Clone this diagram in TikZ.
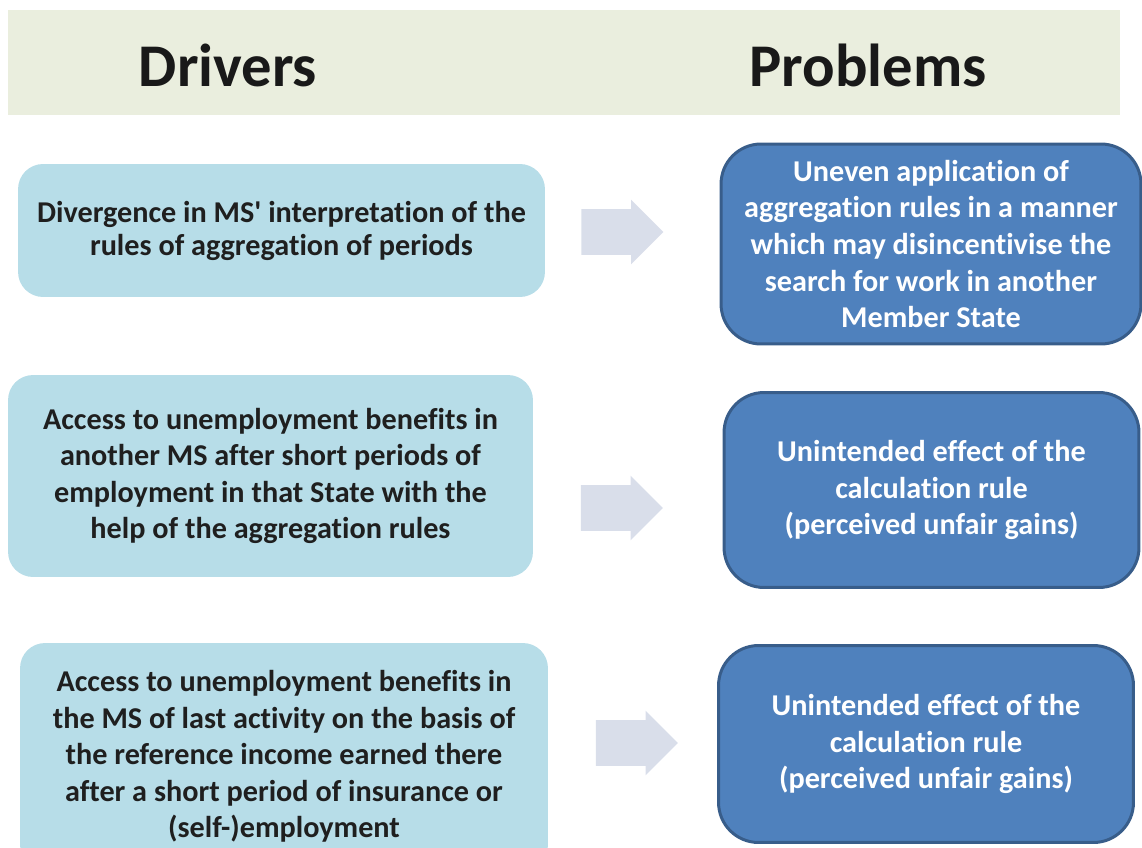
\documentclass[tikz,border=0pt]{standalone}
\usepackage{fontspec}
\setmainfont{Carlito}[Ligatures={NoCommon,TeXOff}]
\usepackage{tikz}
\usetikzlibrary{shapes.arrows}
\definecolor{headband}{RGB}{234,238,222}
\definecolor{driverfill}{RGB}{183,221,232}
\definecolor{problemfill}{RGB}{79,129,189}
\definecolor{problemline}{RGB}{56,93,138}
\definecolor{arrowfill}{RGB}{217,222,234}

\begin{document}
\begin{tikzpicture}[
  x=0.02cm, y=-0.02cm,
  heading/.style={font={\fontsize{34.5}{40}\selectfont\bfseries}, text=black!90},
  driver/.style={
    fill=driverfill, rounded corners=0.5cm, align=center,
    font={\fontsize{17.2}{20.8}\selectfont\bfseries}, text=black!88},
  problem/.style={
    fill=problemfill, draw=problemline, line width=1.7pt,
    rounded corners=0.8cm, align=center, text=white,
    font={\fontsize{17.2}{20.8}\selectfont\bfseries}},
  link/.style={
    single arrow, fill=arrowfill, inner xsep=0pt, inner ysep=0.45cm,
    single arrow head extend=0.19cm, minimum height=1.64cm},
  ]
  \useasboundingbox (0,0) rectangle (1142,848);
  \clip (0,0) rectangle (1142,848);
  % Header band
  \fill[headband] (8,10) rectangle (1120,115);
  \node[heading] (hdrivers) at (228,65) {Drivers};
  \node[heading] (hproblems) at (868,65) {Problems};
  % Drivers
  \node[driver, minimum width=10.54cm, minimum height=2.66cm] (d1) at (281.5,230.5)
    {Divergence in MS' interpretation of the\\[-2pt]rules of aggregation of periods};
  \node[driver, minimum width=10.5cm, minimum height=4.04cm] (d2) at (270.5,476)
    {Access to unemployment benefits in\\another MS after short periods of\\employment in that State with the\\help of the aggregation rules};
  \node[driver, minimum width=10.56cm, minimum height=4.54cm] (d3) at (284,756.5)
    {Access to unemployment benefits in\\the MS of last activity on the basis of\\the reference income earned there\\after a short period of insurance or\\(self-)employment};
  % Problems
  \node[problem, minimum width=8.4cm, minimum height=4.0cm] (p1) at (931,244)
    {Uneven application of\\aggregation rules in a manner\\which may disincentivise the\\search for work in another\\Member State};
  \node[problem, minimum width=8.3cm, minimum height=3.9cm] (p2) at (931.5,490)
    {Unintended effect of the\\calculation rule\\(perceived unfair gains)};
  \node[problem, minimum width=8.3cm, minimum height=3.94cm] (p3) at (926,744)
    {Unintended effect of the\\calculation rule\\(perceived unfair gains)};
  % Arrows
  \node[link] (a1) at (611,232) {};
  \node[link] (a2) at (610.5,508) {};
  \node[link] (a3) at (625.5,743) {};
\end{tikzpicture}
\end{document}
